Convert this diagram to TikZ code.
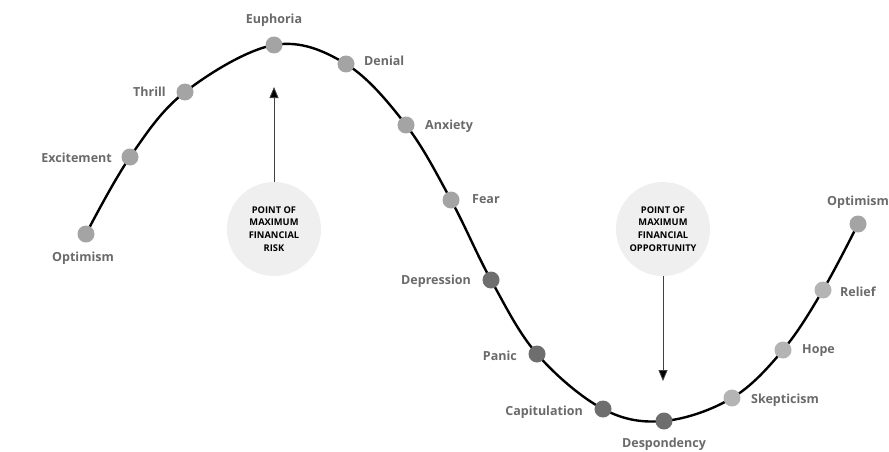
\documentclass[tikz,border=0pt]{standalone}
\usepackage{fontspec}
\setmainfont{Open Sans}
\usetikzlibrary{arrows.meta}
\definecolor{dotA}{HTML}{A4A4A4}
\definecolor{dotB}{HTML}{6E6E6E}
\definecolor{dotC}{HTML}{B4B4B4}
\definecolor{lbl}{HTML}{6A6A6A}
\definecolor{circfill}{HTML}{EFEFEF}
\tikzset{
  dot/.style={circle,minimum size=17pt,inner sep=0pt,fill=#1},
  lab/.style={text=lbl,font=\bfseries\fontsize{12.5}{14}\selectfont,inner sep=0pt},
  bigcirc/.style={circle,fill=circfill,minimum size=94pt,inner sep=0pt,align=center,
     font=\bfseries\fontsize{9.3}{12.8}\selectfont,text=black},
  arr/.style={draw=black!75,line width=0.8pt,-{Triangle[length=11pt,width=9pt,fill=black]}}
}
\begin{document}
\begin{tikzpicture}[x=1pt,y=-1pt]
\useasboundingbox (0,0) rectangle (889,452);
\fill[white] (0,0) rectangle (889,452);
% curve
\draw[line width=2.4pt,line cap=round] plot[smooth,tension=0.6] coordinates
 {(86,234) (130,157) (185,92) (274,45) (346,64) (406,125) (451,200) (491,280) (537,354) (603,409) (664,421) (732,398) (783,350) (823,290) (858,224)};
% dots
\node[dot=dotA] (opt1) at (86,234) {};
\node[dot=dotA] (exc) at (130,157) {};
\node[dot=dotA] (thr) at (185,92) {};
\node[dot=dotA] (eup) at (274,45) {};
\node[dot=dotA] (den) at (346,64) {};
\node[dot=dotA] (anx) at (406,125) {};
\node[dot=dotA] (fear) at (451,200) {};
\node[dot=dotB] (dep) at (491,280) {};
\node[dot=dotB] (pan) at (537,354) {};
\node[dot=dotB] (cap) at (603,409) {};
\node[dot=dotB] (desp) at (664,421) {};
\node[dot=dotC] (ske) at (732,398) {};
\node[dot=dotC] (hope) at (783,350) {};
\node[dot=dotC] (rel) at (823,290) {};
\node[dot=dotA] (opt2) at (858,224) {};
% labels
\node[lab] (lopt1) at (83,258) {Optimism};
\node[lab,anchor=east] (lexc) at (112,158) {Excitement};
\node[lab,anchor=east] (lthr) at (166,92) {Thrill};
\node[lab] (leup) at (274,20) {Euphoria};
\node[lab,anchor=west] (lden) at (364,61) {Denial};
\node[lab,anchor=west] (lanx) at (425,126) {Anxiety};
\node[lab,anchor=west] (lfear) at (472,199) {Fear};
\node[lab,anchor=east] (ldep) at (471,281) {Depression};
\node[lab,anchor=east] (lpan) at (517,356) {Panic};
\node[lab,anchor=east] (lcap) at (583,412) {Capitulation};
\node[lab] (ldesp) at (664,444) {Despondency};
\node[lab,anchor=west] (lske) at (751,400) {Skepticism};
\node[lab,anchor=west] (lhope) at (802,351) {Hope};
\node[lab,anchor=west] (lrel) at (840,292) {Relief};
\node[lab] (lopt2) at (858,202) {Optimism};
% circles
\node[bigcirc] (risk) at (274,229) {POINT OF\\MAXIMUM\\FINANCIAL\\RISK};
\node[bigcirc] (opp) at (663,229) {POINT OF\\MAXIMUM\\FINANCIAL\\OPPORTUNITY};
\coordinate (riskTip) at (274,87);
\coordinate (oppTip) at (663,381);
\draw[arr] (risk.north) -- (riskTip);
\draw[arr] (opp.south) -- (oppTip);
\end{tikzpicture}
\end{document}
